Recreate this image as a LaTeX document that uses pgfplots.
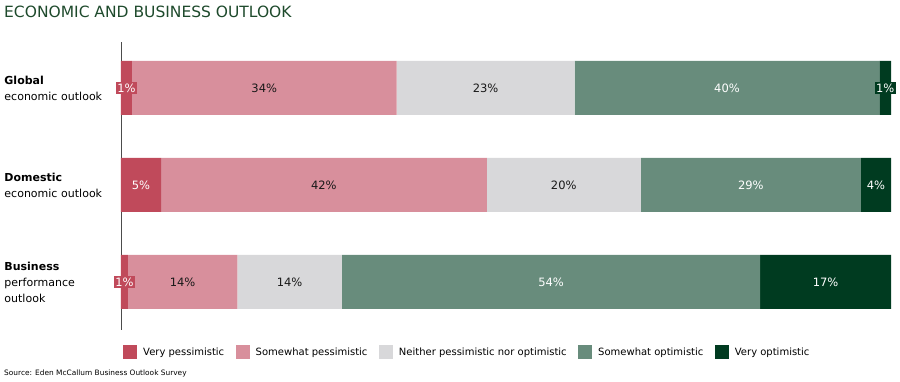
\documentclass[border=0pt]{standalone}
\usepackage{pgfplots}
\pgfplotsset{compat=1.18}
\usepackage{fontspec}
\setmainfont{DejaVu Sans}
\definecolor{vp}{HTML}{C04A5B}
\definecolor{sp}{HTML}{D88F9C}
\definecolor{nn}{HTML}{D8D8DA}
\definecolor{so}{HTML}{688C7C}
\definecolor{vo}{HTML}{003B20}
\definecolor{titlegreen}{HTML}{1E4A2C}
\tikzset{lbl/.style={font=\fontsize{11.5}{12}\selectfont, inner sep=1.5pt}}
\begin{document}
\begin{tikzpicture}
\path[use as bounding box] (0pt,0pt) rectangle (900pt,381pt);
\node[anchor=west, inner sep=0, text=titlegreen, font=\fontsize{15.5}{18}\selectfont] at (4pt,369pt) {ECONOMIC AND BUSINESS OUTLOOK};
\node[anchor=west, inner sep=0, font=\fontsize{7.4}{8}\selectfont] at (4pt,8pt) {Source: Eden McCallum Business Outlook Survey};
\begin{axis}[at={(121pt,51pt)}, anchor=south west, width=770pt, height=288pt, scale only axis,
  xbar stacked, bar width=54pt, xmin=0, xmax=100, ymin=-0.474, ymax=2.495, y dir=reverse,
  axis x line=none, axis y line*=left, ytick={0,1,2},
  yticklabels={{\textbf{Global}\\economic outlook},{\textbf{Domestic}\\economic outlook},{\textbf{Business}\\performance\\outlook}},
  yticklabel style={text width=113pt, align=left, font=\fontsize{11}{16}\selectfont},
  major tick length=0,
  y axis line style={-, color=black!70, line width=0.8pt},
  legend style={at={(0.0026,-0.0764)}, anchor=west, draw=none, inner sep=0pt, fill=none,
    legend columns=-1, font=\fontsize{10}{12}\selectfont,
    /tikz/every even column/.append style={column sep=9.5pt}},
  legend image code/.code={\fill[#1] (0pt,-7pt) rectangle (14pt,7pt); \path (18pt,0pt);},
]
\addplot[fill=vp, draw=none] coordinates {(1.4,0) (5.2,1) (0.9,2)};
\addlegendentry{Very pessimistic}
\addplot[fill=sp, draw=none] coordinates {(34.4,0) (42.3,1) (14.2,2)};
\addlegendentry{Somewhat pessimistic}
\addplot[fill=nn, draw=none] coordinates {(23.1,0) (20.0,1) (13.6,2)};
\addlegendentry{Neither pessimistic nor optimistic}
\addplot[fill=so, draw=none] coordinates {(39.6,0) (28.6,1) (54.3,2)};
\addlegendentry{Somewhat optimistic}
\addplot[fill=vo, draw=none] coordinates {(1.5,0) (3.9,1) (17.0,2)};
\addlegendentry{Very optimistic}
\coordinate (g1) at (axis cs:0.7,0);
\coordinate (g2) at (axis cs:18.6,0);
\coordinate (g3) at (axis cs:47.35,0);
\coordinate (g4) at (axis cs:78.7,0);
\coordinate (g5) at (axis cs:99.25,0);
\coordinate (d1) at (axis cs:2.6,1);
\coordinate (d2) at (axis cs:26.35,1);
\coordinate (d3) at (axis cs:57.5,1);
\coordinate (d4) at (axis cs:81.8,1);
\coordinate (d5) at (axis cs:98.05,1);
\coordinate (b1) at (axis cs:0.45,2);
\coordinate (b2) at (axis cs:8.0,2);
\coordinate (b3) at (axis cs:21.9,2);
\coordinate (b4) at (axis cs:55.85,2);
\coordinate (b5) at (axis cs:91.5,2);
\end{axis}
% Global
\node[lbl, fill=vp, text=white] at (g1) {1\%};
\node[lbl, text=black!90] at (g2) {34\%};
\node[lbl, text=black!90] at (g3) {23\%};
\node[lbl, text=white] at (g4) {40\%};
\node[lbl, fill=vo, text=white] at (g5) {1\%};
% Domestic
\node[lbl, text=white] at (d1) {5\%};
\node[lbl, text=black!90] at (d2) {42\%};
\node[lbl, text=black!90] at (d3) {20\%};
\node[lbl, text=white] at (d4) {29\%};
\node[lbl, text=white] at (d5) {4\%};
% Business
\node[lbl, fill=vp, text=white] at (b1) {1\%};
\node[lbl, text=black!90] at (b2) {14\%};
\node[lbl, text=black!90] at (b3) {14\%};
\node[lbl, text=white] at (b4) {54\%};
\node[lbl, text=white] at (b5) {17\%};
\end{tikzpicture}
\end{document}
